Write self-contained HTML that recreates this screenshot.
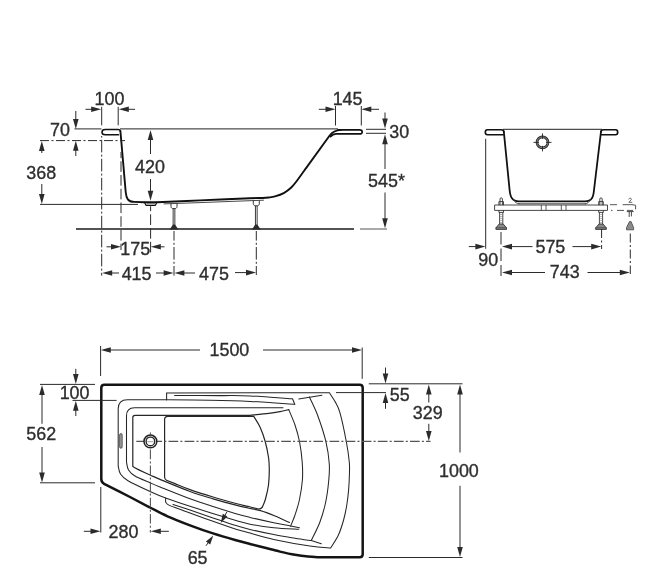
<!DOCTYPE html>
<html lang="en">
<head>
<meta charset="utf-8">
<title>Bathtub technical drawing</title>
<style>
html,body{margin:0;padding:0;background:#fff;}
body{width:672px;height:583px;overflow:hidden;}
svg{display:block;filter:blur(0.4px);}
svg text{font-family:"Liberation Sans",Arial,Helvetica,sans-serif;}
</style>
</head>
<body>
<svg width="672" height="583" viewBox="0 0 672 583">
<rect width="672" height="583" fill="#fff"/>
<line x1="76" y1="229" x2="354" y2="229" stroke="#1a1a1a" stroke-width="1.4" stroke-linecap="butt"/>
<line x1="360" y1="229" x2="387" y2="229" stroke="#555" stroke-width="1.0" stroke-linecap="butt"/>
<line x1="120" y1="128.9" x2="338" y2="128.9" stroke="#222" stroke-width="1.0" stroke-linecap="butt"/>
<path d="M120.4,131 L125.7,192 C126.3,198.5 128,201.7 134,201.9 L144,202.2 L157,202.2  C164.17,201.9 184.5,201.07 200,200.4 C215.5,199.73 239.58,198.6 250,198.2 C260.42,197.8 259.38,198.12 262.5,198 C265.62,197.88 266.67,197.77 268.75,197.5 C270.83,197.23 272.5,197.13 275,196.4 C277.5,195.67 281.04,194.58 283.75,193.1 C286.46,191.62 288.96,189.68 291.25,187.5 C293.54,185.32 295,183.27 297.5,180 C300,176.73 304.79,169.92 306.25,167.9 L329.5,135.7 C332,132.4 334.5,130.2 341,129.9" fill="none" stroke="#111" stroke-width="1.9" stroke-linejoin="round" stroke-linecap="round"/>
<path d="M164,203.9 L200,202.6 L250,200.7 L263.5,200.2" fill="none" stroke="#333" stroke-width="0.9" stroke-linejoin="round" stroke-linecap="round"/>
<path d="M120.4,131.5 C120.4,130 120,129.6 118,129.6 L105.2,129.6 C103,129.6 102,130.6 102,132.2 C102,133.8 103,134.7 105.2,134.7 L118.5,134.7" fill="none" stroke="#111" stroke-width="1.5" stroke-linejoin="round" stroke-linecap="round"/>
<path d="M338,129.9 L359.5,129.9 C361.5,129.9 362.2,130.7 362.2,131.9 C362.2,133.1 361.5,133.9 359.5,133.9 L336,133.9 C334,134 332,135 330.5,136.6" fill="none" stroke="#111" stroke-width="1.6" stroke-linejoin="round" stroke-linecap="round"/>
<path d="M144.4,202.2 L146,205.3 L155.4,205.3 L156.9,202.2" fill="none" stroke="#111" stroke-width="1.2" stroke-linejoin="round" stroke-linecap="round"/>
<line x1="146.5" y1="203.7" x2="155" y2="203.7" stroke="#555" stroke-width="0.8" stroke-linecap="butt"/>
<path d="M171,203.8 L171,206.6 C171,208 172.4,208.6 173,208.6 L175,208.6 C175.6,208.6 177,208 177,206.6 L177,203.8" fill="none" stroke="#222" stroke-width="0.9" stroke-linejoin="round" stroke-linecap="round"/>
<line x1="173.15" y1="208.6" x2="173.15" y2="226" stroke="#1a1a1a" stroke-width="0.85" stroke-linecap="butt"/>
<line x1="174.85" y1="208.6" x2="174.85" y2="226" stroke="#1a1a1a" stroke-width="0.85" stroke-linecap="butt"/>
<polygon points="169.6,229.4 173,224.4 175,224.4 178.4,229.4" fill="#2a2a2a"/>
<path d="M253.3,201 L253.3,203.8 C253.3,205.2 254.7,205.8 255.3,205.8 L257.3,205.8 C257.9,205.8 259.3,205.2 259.3,203.8 L259.3,201" fill="none" stroke="#222" stroke-width="0.9" stroke-linejoin="round" stroke-linecap="round"/>
<line x1="255.45" y1="205.8" x2="255.45" y2="226" stroke="#1a1a1a" stroke-width="0.85" stroke-linecap="butt"/>
<line x1="257.15" y1="205.8" x2="257.15" y2="226" stroke="#1a1a1a" stroke-width="0.85" stroke-linecap="butt"/>
<polygon points="251.9,229.4 255.3,224.4 257.3,224.4 260.7,229.4" fill="#2a2a2a"/>
<line x1="101.7" y1="106.8" x2="101.7" y2="125.3" stroke="#2b2b2b" stroke-width="1.0" stroke-linecap="butt"/>
<line x1="101.7" y1="136" x2="101.7" y2="275.6" stroke="#2b2b2b" stroke-width="1.0" stroke-dasharray="12.6 2.2 2 2.2" stroke-dashoffset="15.2" stroke-linecap="butt"/>
<line x1="118.2" y1="106.8" x2="118.2" y2="125.3" stroke="#2b2b2b" stroke-width="1.0" stroke-linecap="butt"/>
<line x1="121" y1="152" x2="121" y2="250" stroke="#2b2b2b" stroke-width="1.0" stroke-dasharray="10.6 3.15" stroke-dashoffset="4.5" stroke-linecap="butt"/>
<line x1="150.6" y1="206.2" x2="150.6" y2="255" stroke="#2b2b2b" stroke-width="1.0" stroke-dasharray="10.6 3.15" stroke-dashoffset="5.6" stroke-linecap="butt"/>
<line x1="174" y1="231" x2="174" y2="275.6" stroke="#2b2b2b" stroke-width="1.0" stroke-dasharray="12.6 2.2 2 2.2" stroke-dashoffset="3" stroke-linecap="butt"/>
<line x1="256.3" y1="231" x2="256.3" y2="275" stroke="#2b2b2b" stroke-width="1.0" stroke-dasharray="12.6 2.2 2 2.2" stroke-dashoffset="3" stroke-linecap="butt"/>
<text x="109.5" y="105" font-size="17.9" text-anchor="middle" fill="#2e2e2e" stroke="#2e2e2e" stroke-width="0.35">100</text>
<line x1="85.5" y1="109.3" x2="93.2" y2="109.3" stroke="#2b2b2b" stroke-width="1.0" stroke-linecap="butt"/>
<polygon points="101.2,109.3 91.2,112.1 91.2,106.5" fill="#2b2b2b"/>
<line x1="135" y1="109.3" x2="126.8" y2="109.3" stroke="#2b2b2b" stroke-width="1.0" stroke-linecap="butt"/>
<polygon points="118.8,109.3 128.8,106.5 128.8,112.1" fill="#2b2b2b"/>
<text x="60" y="136.3" font-size="17.9" text-anchor="middle" fill="#2e2e2e" stroke="#2e2e2e" stroke-width="0.35">70</text>
<line x1="74.5" y1="128.9" x2="101.5" y2="128.9" stroke="#2b2b2b" stroke-width="1.0" stroke-linecap="butt"/>
<line x1="40" y1="140.6" x2="125" y2="140.6" stroke="#2b2b2b" stroke-width="1.0" stroke-dasharray="9 2.5 2 2.5" stroke-linecap="butt"/>
<line x1="75.8" y1="111" x2="75.8" y2="120.9" stroke="#2b2b2b" stroke-width="1.0" stroke-linecap="butt"/>
<polygon points="75.8,128.9 73,118.9 78.6,118.9" fill="#2b2b2b"/>
<line x1="75.8" y1="156" x2="75.8" y2="148.8" stroke="#2b2b2b" stroke-width="1.0" stroke-linecap="butt"/>
<polygon points="75.8,140.8 78.6,150.8 73,150.8" fill="#2b2b2b"/>
<text x="41.3" y="179" font-size="17.9" text-anchor="middle" fill="#2e2e2e" stroke="#2e2e2e" stroke-width="0.35">368</text>
<line x1="41.8" y1="153" x2="41.8" y2="149" stroke="#2b2b2b" stroke-width="1.0" stroke-linecap="butt"/>
<polygon points="41.8,141 44.6,151 39,151" fill="#2b2b2b"/>
<line x1="41.8" y1="184" x2="41.8" y2="196" stroke="#2b2b2b" stroke-width="1.0" stroke-linecap="butt"/>
<polygon points="41.8,204 39,194 44.6,194" fill="#2b2b2b"/>
<line x1="40" y1="204.4" x2="138" y2="204.4" stroke="#2b2b2b" stroke-width="1.0" stroke-linecap="butt"/>
<text x="150" y="172.7" font-size="17.9" text-anchor="middle" fill="#2e2e2e" stroke="#2e2e2e" stroke-width="0.35">420</text>
<line x1="150.5" y1="154" x2="150.5" y2="138" stroke="#2b2b2b" stroke-width="1.0" stroke-linecap="butt"/>
<polygon points="150.5,130 153.3,140 147.7,140" fill="#2b2b2b"/>
<line x1="150.5" y1="179" x2="150.5" y2="192.8" stroke="#2b2b2b" stroke-width="1.0" stroke-linecap="butt"/>
<polygon points="150.5,200.8 147.7,190.8 153.3,190.8" fill="#2b2b2b"/>
<text x="135.2" y="255.3" font-size="17.9" text-anchor="middle" fill="#2e2e2e" stroke="#2e2e2e" stroke-width="0.35">175</text>
<line x1="106.5" y1="246.8" x2="113" y2="246.8" stroke="#2b2b2b" stroke-width="1.0" stroke-linecap="butt"/>
<polygon points="121,246.8 111,249.6 111,244" fill="#2b2b2b"/>
<line x1="164.5" y1="246.8" x2="158.8" y2="246.8" stroke="#2b2b2b" stroke-width="1.0" stroke-linecap="butt"/>
<polygon points="150.8,246.8 160.8,244 160.8,249.6" fill="#2b2b2b"/>
<text x="136.6" y="279.6" font-size="17.9" text-anchor="middle" fill="#2e2e2e" stroke="#2e2e2e" stroke-width="0.35">415</text>
<text x="214" y="279.6" font-size="17.9" text-anchor="middle" fill="#2e2e2e" stroke="#2e2e2e" stroke-width="0.35">475</text>
<line x1="119" y1="273" x2="110.2" y2="273" stroke="#2b2b2b" stroke-width="1.0" stroke-linecap="butt"/>
<polygon points="102.2,273 112.2,270.2 112.2,275.8" fill="#2b2b2b"/>
<line x1="156" y1="273" x2="165.6" y2="273" stroke="#2b2b2b" stroke-width="1.0" stroke-linecap="butt"/>
<polygon points="173.6,273 163.6,275.8 163.6,270.2" fill="#2b2b2b"/>
<line x1="195" y1="273" x2="182.4" y2="273" stroke="#2b2b2b" stroke-width="1.0" stroke-linecap="butt"/>
<polygon points="174.4,273 184.4,270.2 184.4,275.8" fill="#2b2b2b"/>
<line x1="235" y1="272.6" x2="248" y2="272.6" stroke="#2b2b2b" stroke-width="1.0" stroke-linecap="butt"/>
<polygon points="256,272.6 246,275.4 246,269.8" fill="#2b2b2b"/>
<text x="347.6" y="104.6" font-size="17.9" text-anchor="middle" fill="#2e2e2e" stroke="#2e2e2e" stroke-width="0.35">145</text>
<line x1="335.5" y1="106" x2="335.5" y2="125.5" stroke="#2b2b2b" stroke-width="1.0" stroke-linecap="butt"/>
<line x1="361.3" y1="106" x2="361.3" y2="125.5" stroke="#2b2b2b" stroke-width="1.0" stroke-linecap="butt"/>
<line x1="318.8" y1="109.3" x2="327.5" y2="109.3" stroke="#2b2b2b" stroke-width="1.0" stroke-linecap="butt"/>
<polygon points="335.5,109.3 325.5,112.1 325.5,106.5" fill="#2b2b2b"/>
<line x1="379" y1="109.3" x2="369.3" y2="109.3" stroke="#2b2b2b" stroke-width="1.0" stroke-linecap="butt"/>
<polygon points="361.3,109.3 371.3,106.5 371.3,112.1" fill="#2b2b2b"/>
<line x1="366" y1="129.3" x2="386" y2="129.3" stroke="#2b2b2b" stroke-width="1.0" stroke-linecap="butt"/>
<line x1="366" y1="133.3" x2="386" y2="133.3" stroke="#2b2b2b" stroke-width="1.0" stroke-linecap="butt"/>
<text x="399.2" y="138.2" font-size="17.9" text-anchor="middle" fill="#2e2e2e" stroke="#2e2e2e" stroke-width="0.35">30</text>
<line x1="385" y1="112.5" x2="385" y2="120.6" stroke="#2b2b2b" stroke-width="1.0" stroke-linecap="butt"/>
<polygon points="385,128.6 382.2,118.6 387.8,118.6" fill="#2b2b2b"/>
<line x1="385" y1="169" x2="385" y2="142.2" stroke="#2b2b2b" stroke-width="1.0" stroke-linecap="butt"/>
<polygon points="385,134.2 387.8,144.2 382.2,144.2" fill="#2b2b2b"/>
<text x="386.5" y="186.9" font-size="17.9" text-anchor="middle" fill="#2e2e2e" stroke="#2e2e2e" stroke-width="0.35">545*</text>
<line x1="385" y1="192.5" x2="385" y2="220.3" stroke="#2b2b2b" stroke-width="1.0" stroke-linecap="butt"/>
<polygon points="385,228.3 382.2,218.3 387.8,218.3" fill="#2b2b2b"/>
<line x1="503" y1="129.3" x2="602" y2="129.3" stroke="#222" stroke-width="1.0" stroke-linecap="butt"/>
<path d="M503.8,131.5 L509.6,190 C510.3,197 512,201.2 519,201.4 L585,201.4 C592,201.2 593.4,197 594,190 L601,131.5" fill="none" stroke="#111" stroke-width="1.8" stroke-linejoin="round" stroke-linecap="round"/>
<path d="M519,203.8 L585.5,203.8" fill="none" stroke="#333" stroke-width="0.9" stroke-linejoin="round" stroke-linecap="round"/>
<path d="M513.5,199.5 C515,202.6 517,203.7 519,203.8" fill="none" stroke="#333" stroke-width="0.9" stroke-linejoin="round" stroke-linecap="round"/>
<path d="M590.5,199.5 C589,202.6 587,203.7 585.5,203.8" fill="none" stroke="#333" stroke-width="0.9" stroke-linejoin="round" stroke-linecap="round"/>
<path d="M503.8,132 C503.8,130.2 503.3,129.7 501.5,129.7 L487.5,129.7 C485.8,129.7 485.3,130.4 485.3,132.2 C485.3,134 485.8,134.7 487.5,134.7 L503.2,134.7" fill="none" stroke="#111" stroke-width="1.6" stroke-linejoin="round" stroke-linecap="round"/>
<path d="M601,132 C601,130.2 601.5,129.7 603.3,129.7 L615.5,129.7 C617.2,129.7 617.7,130.4 617.7,132.2 C617.7,134 617.2,134.7 615.5,134.7 L601.6,134.7" fill="none" stroke="#111" stroke-width="1.6" stroke-linejoin="round" stroke-linecap="round"/>
<circle cx="542.5" cy="142.4" r="5.5" fill="none" stroke="#222" stroke-width="2.6"/>
<circle cx="542.5" cy="142.4" r="5.5" fill="none" stroke="#bbb" stroke-width="0.7"/>
<line x1="533.5" y1="142.4" x2="539" y2="142.4" stroke="#222" stroke-width="0.9" stroke-linecap="butt"/>
<line x1="546" y1="142.4" x2="551.5" y2="142.4" stroke="#222" stroke-width="0.9" stroke-linecap="butt"/>
<line x1="542.5" y1="133.4" x2="542.5" y2="138.9" stroke="#222" stroke-width="0.9" stroke-linecap="butt"/>
<line x1="542.5" y1="145.9" x2="542.5" y2="151.4" stroke="#222" stroke-width="0.9" stroke-linecap="butt"/>
<path d="M495,205 L607.5,205 L607.5,210.4 L495,210.4 Z" fill="none" stroke="#333" stroke-width="0.9" stroke-linejoin="miter" stroke-linecap="round"/>
<line x1="541.3" y1="205" x2="541.3" y2="210.4" stroke="#333" stroke-width="0.8" stroke-linecap="butt"/>
<line x1="546" y1="205" x2="546" y2="210.4" stroke="#333" stroke-width="0.8" stroke-linecap="butt"/>
<line x1="561.3" y1="205" x2="561.3" y2="210.4" stroke="#333" stroke-width="0.8" stroke-linecap="butt"/>
<line x1="566" y1="205" x2="566" y2="210.4" stroke="#333" stroke-width="0.8" stroke-linecap="butt"/>
<path d="M500,204.8 L500,199 C500,197.4 502.4,197.4 502.4,199 L502.4,204.8" fill="none" stroke="#333" stroke-width="0.9" stroke-linejoin="round" stroke-linecap="round"/>
<path d="M498.9,204.8 L498.9,201.6 L503.5,201.6 L503.5,204.8" fill="none" stroke="#333" stroke-width="0.9" stroke-linejoin="round" stroke-linecap="round"/>
<path d="M498.9,210.6 L498.9,212.4 L503.5,212.4 L503.5,210.6" fill="none" stroke="#333" stroke-width="0.9" stroke-linejoin="round" stroke-linecap="round"/>
<line x1="499.6" y1="212.4" x2="499.6" y2="224" stroke="#333" stroke-width="0.9" stroke-linecap="butt"/>
<line x1="502.8" y1="212.4" x2="502.8" y2="224" stroke="#333" stroke-width="0.9" stroke-linecap="butt"/>
<line x1="499.6" y1="214.5" x2="502.8" y2="214.5" stroke="#777" stroke-width="0.5" stroke-linecap="butt"/>
<line x1="499.6" y1="216.5" x2="502.8" y2="216.5" stroke="#777" stroke-width="0.5" stroke-linecap="butt"/>
<line x1="499.6" y1="218.5" x2="502.8" y2="218.5" stroke="#777" stroke-width="0.5" stroke-linecap="butt"/>
<line x1="499.6" y1="220.5" x2="502.8" y2="220.5" stroke="#777" stroke-width="0.5" stroke-linecap="butt"/>
<line x1="499.6" y1="222.5" x2="502.8" y2="222.5" stroke="#777" stroke-width="0.5" stroke-linecap="butt"/>
<polygon points="495.9,229.4 495.9,227.8 499.2,224 503.2,224 506.5,227.8 506.5,229.4" fill="#8a8a8a" stroke="#333" stroke-width="0.9" stroke-linejoin="round"/>
<line x1="495.9" y1="227.8" x2="506.5" y2="227.8" stroke="#333" stroke-width="0.7" stroke-linecap="butt"/>
<path d="M599.8,204.8 L599.8,199 C599.8,197.4 602.2,197.4 602.2,199 L602.2,204.8" fill="none" stroke="#333" stroke-width="0.9" stroke-linejoin="round" stroke-linecap="round"/>
<path d="M598.7,204.8 L598.7,201.6 L603.3,201.6 L603.3,204.8" fill="none" stroke="#333" stroke-width="0.9" stroke-linejoin="round" stroke-linecap="round"/>
<path d="M598.7,210.6 L598.7,212.4 L603.3,212.4 L603.3,210.6" fill="none" stroke="#333" stroke-width="0.9" stroke-linejoin="round" stroke-linecap="round"/>
<line x1="599.4" y1="212.4" x2="599.4" y2="224" stroke="#333" stroke-width="0.9" stroke-linecap="butt"/>
<line x1="602.6" y1="212.4" x2="602.6" y2="224" stroke="#333" stroke-width="0.9" stroke-linecap="butt"/>
<line x1="599.4" y1="214.5" x2="602.6" y2="214.5" stroke="#777" stroke-width="0.5" stroke-linecap="butt"/>
<line x1="599.4" y1="216.5" x2="602.6" y2="216.5" stroke="#777" stroke-width="0.5" stroke-linecap="butt"/>
<line x1="599.4" y1="218.5" x2="602.6" y2="218.5" stroke="#777" stroke-width="0.5" stroke-linecap="butt"/>
<line x1="599.4" y1="220.5" x2="602.6" y2="220.5" stroke="#777" stroke-width="0.5" stroke-linecap="butt"/>
<line x1="599.4" y1="222.5" x2="602.6" y2="222.5" stroke="#777" stroke-width="0.5" stroke-linecap="butt"/>
<polygon points="595.7,229.4 595.7,227.8 599,224 603,224 606.3,227.8 606.3,229.4" fill="#8a8a8a" stroke="#333" stroke-width="0.9" stroke-linejoin="round"/>
<line x1="595.7" y1="227.8" x2="606.3" y2="227.8" stroke="#333" stroke-width="0.7" stroke-linecap="butt"/>
<line x1="610" y1="204.7" x2="617" y2="204.7" stroke="#555" stroke-width="1.0" stroke-linecap="butt"/>
<line x1="622.6" y1="204.7" x2="632.5" y2="204.7" stroke="#555" stroke-width="1.0" stroke-linecap="butt"/>
<line x1="611" y1="210.4" x2="612.5" y2="210.4" stroke="#555" stroke-width="1.0" stroke-linecap="butt"/>
<line x1="617" y1="210.4" x2="624" y2="210.4" stroke="#555" stroke-width="1.0" stroke-linecap="butt"/>
<line x1="627" y1="210.4" x2="633" y2="210.4" stroke="#555" stroke-width="1.0" stroke-linecap="butt"/>
<path d="M632.5,204.7 L635.6,205.3 L635.6,209" fill="none" stroke="#555" stroke-width="1.0" stroke-linejoin="round" stroke-linecap="round"/>
<path d="M627.1,211.6 L633.3,211.6 M629.2,212 L629.2,216.6 M631.4,212 L631.4,216" fill="none" stroke="#333" stroke-width="0.9" stroke-linejoin="round" stroke-linecap="round"/>
<path d="M628.7,199 C629.8,197.6 631.7,198 631.3,199.6 L628.9,202.3 L631.9,202.3" fill="none" stroke="#444" stroke-width="0.8" stroke-linejoin="round" stroke-linecap="round"/>
<polygon points="626.5,229.8 626.5,227.6 629.5,221.6 631.1,221.6 633.6,227.6 633.6,229.8" fill="#8c8c8c" stroke="#444" stroke-width="0.8" stroke-linejoin="round"/>
<line x1="485.7" y1="138.8" x2="485.7" y2="248.8" stroke="#2b2b2b" stroke-width="1.0" stroke-linecap="butt"/>
<line x1="468.8" y1="246.6" x2="477.4" y2="246.6" stroke="#2b2b2b" stroke-width="1.0" stroke-linecap="butt"/>
<polygon points="485.4,246.6 475.4,249.4 475.4,243.8" fill="#2b2b2b"/>
<text x="488.2" y="266.4" font-size="17.9" text-anchor="middle" fill="#2e2e2e" stroke="#2e2e2e" stroke-width="0.35">90</text>
<line x1="501" y1="232" x2="501" y2="276" stroke="#2b2b2b" stroke-width="1.0" stroke-dasharray="12.5 4" stroke-linecap="butt"/>
<line x1="601.6" y1="229" x2="601.6" y2="249" stroke="#2b2b2b" stroke-width="1.0" stroke-dasharray="9 2.5 2 2.5" stroke-linecap="butt"/>
<text x="550.4" y="252.8" font-size="17.9" text-anchor="middle" fill="#2e2e2e" stroke="#2e2e2e" stroke-width="0.35">575</text>
<line x1="532.5" y1="246.6" x2="510" y2="246.6" stroke="#2b2b2b" stroke-width="1.0" stroke-linecap="butt"/>
<polygon points="502,246.6 512,243.8 512,249.4" fill="#2b2b2b"/>
<line x1="572.5" y1="246.6" x2="593.2" y2="246.6" stroke="#2b2b2b" stroke-width="1.0" stroke-linecap="butt"/>
<polygon points="601.2,246.6 591.2,249.4 591.2,243.8" fill="#2b2b2b"/>
<line x1="630.3" y1="233.5" x2="630.3" y2="274" stroke="#2b2b2b" stroke-width="1.0" stroke-dasharray="9 2.5 2 2.5" stroke-linecap="butt"/>
<text x="564.8" y="278.4" font-size="17.9" text-anchor="middle" fill="#2e2e2e" stroke="#2e2e2e" stroke-width="0.35">743</text>
<line x1="545" y1="272.5" x2="510" y2="272.5" stroke="#2b2b2b" stroke-width="1.0" stroke-linecap="butt"/>
<polygon points="502,272.5 512,269.7 512,275.3" fill="#2b2b2b"/>
<line x1="587.5" y1="272.5" x2="621.8" y2="272.5" stroke="#2b2b2b" stroke-width="1.0" stroke-linecap="butt"/>
<polygon points="629.8,272.5 619.8,275.3 619.8,269.7" fill="#2b2b2b"/>
<path d="M104.4,384.7 L359.7,384.7 Q362.7,384.7 362.7,387.7 L362.7,554.3 Q362.7,557.3 359.7,557.3 L320,557.3  C318,557.18 312.17,557.02 308,556.6 C303.83,556.18 299.67,555.63 295,554.8 C290.33,553.97 285,552.77 280,551.6 C275,550.43 270,549.07 265,547.8 C260,546.53 254.83,545.25 250,544 C245.17,542.75 242.17,542.07 236,540.3 C229.83,538.53 220.67,535.9 213,533.4 C205.33,530.9 197.58,528.15 190,525.3 C182.42,522.45 174.17,519.27 167.5,516.3 C160.83,513.33 156.25,510.72 150,507.5 C143.75,504.28 137.65,500.95 130,497 C122.35,493.05 108.42,486 104.1,483.8 Q101.3,482.3 101.3,479 L101.3,387.7 Q101.3,384.7 104.4,384.7 Z" fill="none" stroke="#141414" stroke-width="2.5" stroke-linejoin="round" stroke-linecap="round"/>
<path d="M166.6,399.8 L127.3,399.8 Q118.2,399.8 118.2,409 L118.2,466  C118.58,467.33 118.87,471.53 120.5,474 C122.13,476.47 123.08,477.88 128,480.8 C132.92,483.72 143.73,488.63 150,491.5 C156.27,494.37 158.93,495.53 165.6,498 C172.27,500.47 178.27,502.53 190,506.3 C201.73,510.07 226,517.62 236,520.6 C246,523.58 243.71,523 250,524.2 C256.29,525.4 265.62,526.95 273.75,527.8 C281.88,528.65 294.58,529.05 298.75,529.3" fill="none" stroke="#262626" stroke-width="1.05" stroke-linejoin="round" stroke-linecap="round"/>
<path d="M166.6,399.8 L166.6,392.9 L329.4,392.8  C330.33,394.25 333.23,398.17 335,401.5 C336.77,404.83 338.12,406.18 340,412.8 C341.88,419.43 344.7,433.05 346.25,441.25 C347.8,449.45 348.78,456.38 349.3,462 C349.82,467.62 349.52,470.33 349.4,475 C349.28,479.67 349.03,485 348.6,490 C348.17,495 347.63,500 346.8,505 C345.97,510 345,515 343.6,520 C342.2,525 340.55,530.35 338.4,535 C336.25,539.65 331.98,545.75 330.7,547.9 C327.23,547.58 319.39,547.42 309.9,546 C300.41,544.58 283.73,541.55 273.75,539.4 C263.77,537.25 256.29,534.8 250,533.1 C243.71,531.4 242.17,531.17 236,529.2 C229.83,527.23 220.67,524 213,521.3 C205.33,518.6 196.33,515.28 190,513 C183.67,510.72 178.67,509 175,507.6 C171.33,506.2 169.57,505.53 168,504.6 C166.43,503.67 166,502.43 165.6,502 L165.6,498" fill="none" stroke="#262626" stroke-width="1.05" stroke-linejoin="miter" stroke-linecap="round"/>
<path d="M174.6,395.5 C182.17,395.52 207.43,395.53 220,395.6 C232.57,395.67 237.92,395.38 250,395.9 C262.08,396.42 285.42,398.27 292.5,398.75 L294.75,404.25" fill="none" stroke="#262626" stroke-width="1.05" stroke-linejoin="round" stroke-linecap="round"/>
<path d="M166.6,399.8 C173.83,399.88 196.1,400.02 210,400.3 C223.9,400.58 235.88,400.84 250,401.5 C264.12,402.16 287.29,403.79 294.75,404.25" fill="none" stroke="#262626" stroke-width="1.05" stroke-linejoin="round" stroke-linecap="round"/>
<path d="M298.75,399 L321.9,395.2" fill="none" stroke="#262626" stroke-width="1.05" stroke-linejoin="round" stroke-linecap="round"/>
<path d="M173,504.4 C175.83,505.33 183.33,507.75 190,510 C196.67,512.25 205.33,515.3 213,517.9 C220.67,520.5 229.83,523.68 236,525.6 C242.17,527.52 243.71,527.9 250,529.4 C256.29,530.9 266.25,533.13 273.75,534.6 C281.25,536.07 288.75,537.2 295,538.2 C301.25,539.2 308.54,540.2 311.25,540.6 L321.25,543.75" fill="none" stroke="#262626" stroke-width="1.05" stroke-linejoin="round" stroke-linecap="round"/>
<path d="M309.4,397 C310.75,400 314.77,407.63 317.5,415 C320.23,422.37 323.83,433.03 325.8,441.2 C327.77,449.37 328.83,457.2 329.3,464 C329.77,470.8 329.23,475.5 328.6,482 C327.97,488.5 326.98,496.25 325.5,503 C324.02,509.75 322.12,516.25 319.75,522.5 C317.38,528.75 312.71,537.5 311.3,540.5" fill="none" stroke="#262626" stroke-width="1.05" stroke-linejoin="round" stroke-linecap="round"/>
<path d="M283,407.8 L134.5,407.8 Q126.5,407.8 126.5,416 L126.5,462  C126.83,463.33 127.08,467.67 128.5,470 C129.92,472.33 131.42,473.88 135,476 C138.58,478.12 145.83,480.88 150,482.7 C154.17,484.52 153.33,484.22 160,486.9 C166.67,489.57 181.17,495.47 190,498.75 C198.83,502.03 205.33,504.1 213,506.6 C220.67,509.1 229.83,511.95 236,513.75 C242.17,515.55 243.71,515.91 250,517.4 C256.29,518.89 266.98,521.27 273.75,522.7 C280.52,524.13 286.33,525.15 290.6,526 C294.88,526.85 297.93,527.5 299.4,527.8" fill="none" stroke="#262626" stroke-width="1.05" stroke-linejoin="round" stroke-linecap="round"/>
<path d="M288.75,409.6 C287.29,409.93 283.33,410.97 280,411.6 C276.67,412.23 273.75,412.78 268.75,413.4 C263.75,414.02 253.12,414.98 250,415.3 L135,415.3 Q132.8,415.3 132.8,417.5 L132.8,466.5  C136.17,468.75 145.57,473.02 150,475 C154.43,476.98 153.33,476.65 160,479.4 C166.67,482.15 181.17,488.27 190,491.5 C198.83,494.73 205.33,496.52 213,498.8 C220.67,501.08 230.17,503.67 236,505.2 C241.83,506.73 243.92,507.1 248,508 C252.08,508.9 256,509.27 260.5,510.6 C265,511.93 270.18,514.02 275,516 C279.82,517.98 287,521.42 289.4,522.5" fill="none" stroke="#262626" stroke-width="1.2" stroke-linejoin="miter" stroke-linecap="round"/>
<path d="M288.75,409.6 C289.79,412.17 293.21,419.68 295,425 C296.79,430.32 298.3,435.33 299.5,441.5 C300.7,447.67 301.72,455.58 302.2,462 C302.68,468.42 302.87,473.67 302.4,480 C301.93,486.33 300.63,494.17 299.4,500 C298.17,505.83 296.47,510.62 295,515 C293.53,519.38 291.33,524.38 290.6,526.25" fill="none" stroke="#262626" stroke-width="1.05" stroke-linejoin="round" stroke-linecap="round"/>
<path d="M253.75,416.4 C254.79,418.17 258.09,422.82 260,427 C261.91,431.18 263.77,436.33 265.2,441.5 C266.63,446.67 267.92,453.25 268.6,458 C269.28,462.75 269.32,465.5 269.3,470 C269.28,474.5 269.13,480.17 268.5,485 C267.87,489.83 266.48,495.42 265.5,499 C264.52,502.58 263.08,505.25 262.6,506.5 Q261.8,508.8 258.5,509  C256.75,508.57 251.75,507.32 248,506.4 C244.25,505.48 241.83,505.07 236,503.5 C230.17,501.93 220.67,499.32 213,497 C205.33,494.68 196.33,491.83 190,489.6 C183.67,487.37 178.92,485.17 175,483.6 C171.08,482.03 167.92,480.77 166.5,480.2 Q164.6,479.4 164.6,477 L164.6,419.5 Q164.6,416.4 167.8,416.4 L250,416.4 Q252.5,416.4 253.75,416.4" fill="none" stroke="#262626" stroke-width="1.2" stroke-linejoin="round" stroke-linecap="round"/>
<line x1="136.3" y1="441.4" x2="430.5" y2="441.4" stroke="#555" stroke-width="1.1" stroke-dasharray="9.7 2.2 2 2.2" stroke-linecap="butt"/>
<line x1="150.4" y1="449.5" x2="150.4" y2="532.5" stroke="#555" stroke-width="1.1" stroke-dasharray="9.7 2.2 2 2.2" stroke-linecap="butt"/>
<circle cx="150.4" cy="441.4" r="6.4" fill="#fff" stroke="#222" stroke-width="1.5"/>
<circle cx="150.4" cy="441.4" r="4.3" fill="#fff" stroke="#2a2a2a" stroke-width="1.4"/>
<line x1="147.4" y1="441.7" x2="153.4" y2="441.7" stroke="#888" stroke-width="0.8" stroke-linecap="butt"/>
<line x1="150.4" y1="432.4" x2="150.4" y2="436.4" stroke="#444" stroke-width="0.9" stroke-linecap="butt"/>
<rect x="119.6" y="433.6" width="2.6" height="14.6" rx="1.3" fill="#999" stroke="#444" stroke-width="0.8"/>
<line x1="100.6" y1="346" x2="100.6" y2="376" stroke="#2b2b2b" stroke-width="1.0" stroke-linecap="butt"/>
<line x1="362.2" y1="347.5" x2="362.2" y2="378.8" stroke="#2b2b2b" stroke-width="1.0" stroke-linecap="butt"/>
<text x="229.4" y="355.9" font-size="17.9" text-anchor="middle" fill="#2e2e2e" stroke="#2e2e2e" stroke-width="0.35">1500</text>
<line x1="200" y1="350" x2="108.8" y2="350" stroke="#2b2b2b" stroke-width="1.0" stroke-linecap="butt"/>
<polygon points="100.8,350 110.8,347.2 110.8,352.8" fill="#2b2b2b"/>
<line x1="263" y1="350" x2="354" y2="350" stroke="#2b2b2b" stroke-width="1.0" stroke-linecap="butt"/>
<polygon points="362,350 352,352.8 352,347.2" fill="#2b2b2b"/>
<line x1="40" y1="384.4" x2="95" y2="384.4" stroke="#2b2b2b" stroke-width="1.0" stroke-linecap="butt"/>
<line x1="72.5" y1="400.4" x2="116.6" y2="400.4" stroke="#2b2b2b" stroke-width="1.0" stroke-linecap="butt"/>
<text x="74.6" y="399.2" font-size="17.9" text-anchor="middle" fill="#2e2e2e" stroke="#2e2e2e" stroke-width="0.35">100</text>
<line x1="75.8" y1="368.8" x2="75.8" y2="376" stroke="#2b2b2b" stroke-width="1.0" stroke-linecap="butt"/>
<polygon points="75.8,384 73,374 78.6,374" fill="#2b2b2b"/>
<line x1="75.8" y1="416" x2="75.8" y2="408.8" stroke="#2b2b2b" stroke-width="1.0" stroke-linecap="butt"/>
<polygon points="75.8,400.8 78.6,410.8 73,410.8" fill="#2b2b2b"/>
<text x="41.2" y="440.4" font-size="17.9" text-anchor="middle" fill="#2e2e2e" stroke="#2e2e2e" stroke-width="0.35">562</text>
<line x1="42" y1="423.8" x2="42" y2="393" stroke="#2b2b2b" stroke-width="1.0" stroke-linecap="butt"/>
<polygon points="42,385 44.8,395 39.2,395" fill="#2b2b2b"/>
<line x1="42" y1="447" x2="42" y2="474.4" stroke="#2b2b2b" stroke-width="1.0" stroke-linecap="butt"/>
<polygon points="42,482.4 39.2,472.4 44.8,472.4" fill="#2b2b2b"/>
<line x1="40" y1="482.8" x2="95" y2="482.8" stroke="#2b2b2b" stroke-width="1.0" stroke-linecap="butt"/>
<line x1="100.8" y1="487" x2="100.8" y2="532.5" stroke="#2b2b2b" stroke-width="1.0" stroke-linecap="butt"/>
<text x="123.5" y="538.4" font-size="17.9" text-anchor="middle" fill="#2e2e2e" stroke="#2e2e2e" stroke-width="0.35">280</text>
<line x1="83.8" y1="531.3" x2="92.5" y2="531.3" stroke="#2b2b2b" stroke-width="1.0" stroke-linecap="butt"/>
<polygon points="100.5,531.3 90.5,534.1 90.5,528.5" fill="#2b2b2b"/>
<line x1="168.8" y1="531.3" x2="158.8" y2="531.3" stroke="#2b2b2b" stroke-width="1.0" stroke-linecap="butt"/>
<polygon points="150.8,531.3 160.8,528.5 160.8,534.1" fill="#2b2b2b"/>
<text x="197.6" y="564.2" font-size="17.9" text-anchor="middle" fill="#2e2e2e" stroke="#2e2e2e" stroke-width="0.35">65</text>
<line x1="206" y1="545.8" x2="209.11" y2="541.45" stroke="#2b2b2b" stroke-width="1.0" stroke-linecap="butt"/>
<polygon points="213.3,535.6 210.18,544.43 205.95,541.41" fill="#2b2b2b"/>
<line x1="226.9" y1="511.9" x2="224.21" y2="516.71" stroke="#2b2b2b" stroke-width="1.0" stroke-linecap="butt"/>
<polygon points="220.7,523 222.82,513.87 227.36,516.41" fill="#2b2b2b"/>
<line x1="368.8" y1="383.8" x2="462.5" y2="383.8" stroke="#2b2b2b" stroke-width="1.0" stroke-linecap="butt"/>
<line x1="336" y1="392.6" x2="386" y2="392.6" stroke="#2b2b2b" stroke-width="1.0" stroke-linecap="butt"/>
<text x="399.8" y="400.9" font-size="17.9" text-anchor="middle" fill="#2e2e2e" stroke="#2e2e2e" stroke-width="0.35">55</text>
<line x1="385.5" y1="367.5" x2="385.5" y2="375.4" stroke="#2b2b2b" stroke-width="1.0" stroke-linecap="butt"/>
<polygon points="385.5,383.4 382.7,373.4 388.3,373.4" fill="#2b2b2b"/>
<line x1="385.5" y1="408.8" x2="385.5" y2="401" stroke="#2b2b2b" stroke-width="1.0" stroke-linecap="butt"/>
<polygon points="385.5,393 388.3,403 382.7,403" fill="#2b2b2b"/>
<text x="427.8" y="419.4" font-size="17.9" text-anchor="middle" fill="#2e2e2e" stroke="#2e2e2e" stroke-width="0.35">329</text>
<line x1="428.8" y1="402.5" x2="428.8" y2="392.4" stroke="#2b2b2b" stroke-width="1.0" stroke-linecap="butt"/>
<polygon points="428.8,384.4 431.6,394.4 426,394.4" fill="#2b2b2b"/>
<line x1="428.8" y1="423.8" x2="428.8" y2="433" stroke="#2b2b2b" stroke-width="1.0" stroke-linecap="butt"/>
<polygon points="428.8,441 426,431 431.6,431" fill="#2b2b2b"/>
<text x="458.9" y="477.2" font-size="17.9" text-anchor="middle" fill="#2e2e2e" stroke="#2e2e2e" stroke-width="0.35">1000</text>
<line x1="460" y1="452.5" x2="460" y2="392.4" stroke="#2b2b2b" stroke-width="1.0" stroke-linecap="butt"/>
<polygon points="460,384.4 462.8,394.4 457.2,394.4" fill="#2b2b2b"/>
<line x1="460" y1="485.8" x2="460" y2="549" stroke="#2b2b2b" stroke-width="1.0" stroke-linecap="butt"/>
<polygon points="460,557 457.2,547 462.8,547" fill="#2b2b2b"/>
<line x1="368.8" y1="557.5" x2="462.5" y2="557.5" stroke="#2b2b2b" stroke-width="1.0" stroke-linecap="butt"/>
</svg>
</body>
</html>
